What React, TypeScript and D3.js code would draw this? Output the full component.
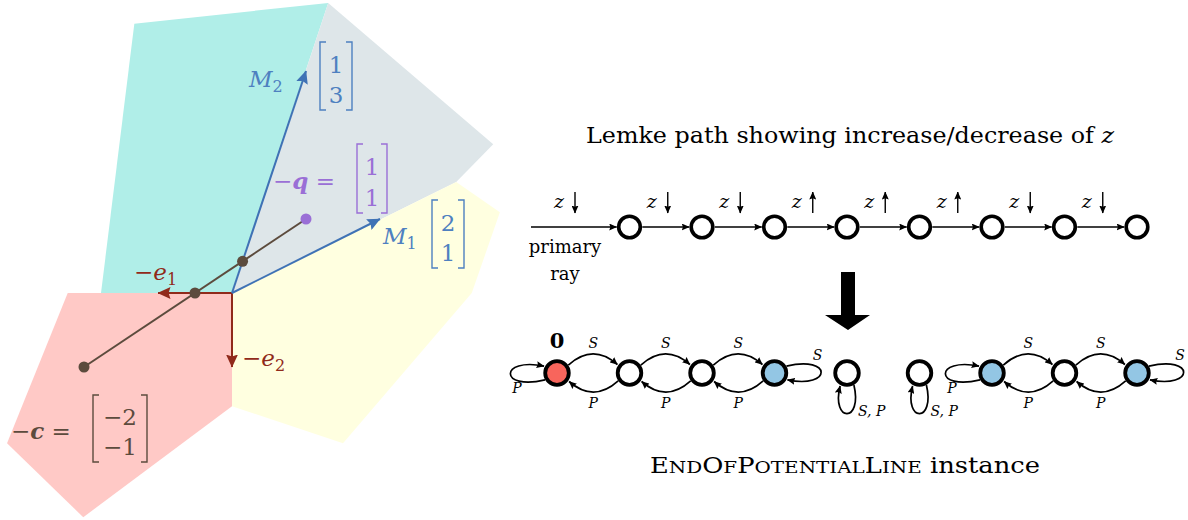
import React from "react";
import * as d3 from "d3";

// cones of the complementary pivot picture, in vector coordinates
const cyanCone: [number, number][] = [[-1.32, 3.64], [1.3, 3.92], [0, 0], [-1.77, 0]];
const grayCone: [number, number][] = [[0, 0], [1.3, 3.92], [3.53, 2.01], [3.03, 1.5]];
const yellowCone: [number, number][] = [[0, 0], [3.03, 1.5], [3.62, 1.09], [3.24, 0], [1.5, -2.03], [0, -1.53]];
const pinkCone: [number, number][] = [[-2.22, 0], [0, 0], [0, -1.53], [-2.01, -3.03], [-3.04, -2.03]];
const cones = [cyanCone, grayCone, yellowCone, pinkCone];
const coneColors = ["#b0eee8", "#dee6e9", "#ffffe0", "#ffc9c6"];

const colM1: [number, number] = [2, 1];
const colM2: [number, number] = [1, 3];
const negE: [number, number][] = [[-1, 0], [0, -1]];
const negQ: [number, number] = [1, 1];
const negC: [number, number] = [-2, -1];

// Lemke path: direction of z along each step
const zTrend = ["down", "down", "down", "up", "up", "up", "down", "down"];
// EndOfPotentialLine instance
const nodeFill = ["red", "white", "white", "blue", "white", "white", "blue", "white", "blue"];
const pairEdges: [number, number][] = [[0, 1], [1, 2], [2, 3], [6, 7], [7, 8]];
const selfLoops = [
  { node: 0, side: "left", label: "P" },
  { node: 3, side: "right", label: "S" },
  { node: 4, side: "below", label: "S, P" },
  { node: 5, side: "below", label: "S, P" },
  { node: 6, side: "left", label: "P" },
  { node: 8, side: "right", label: "S" },
];

const BLUE = "#3f72b5";
const BLUE_T = "#4e80c0";
const RED = "#902a1b";
const BROWN = "#5c4b3d";
const PURPLE = "#9a6fd6";
const FILL: Record<string, string> = { red: "#f8655c", white: "#ffffff", blue: "#93c6e4" };
const SERIF = "'DejaVu Serif', 'Liberation Serif', serif";

function Matrix(props: { x1: number; x2: number; top: number; bottom: number; vals: string[]; color: string; size?: number }) {
  const { x1, x2, top, bottom, vals, color, size = 23 } = props;
  const cx = (x1 + x2) / 2;
  const h = bottom - top;
  return (
    <g stroke={color} fill="none" strokeWidth={1.4}>
      <path d={`M${x1 + 6},${top} H${x1} V${bottom} H${x1 + 6}`} />
      <path d={`M${x2 - 6},${top} H${x2} V${bottom} H${x2 - 6}`} />
      {vals.map((v, i) => (
        <text key={i} x={cx} y={top + h * (i === 0 ? 0.45 : 0.9)} textAnchor="middle" fill={color} stroke="none" fontSize={size} fontFamily={SERIF}>
          {v}
        </text>
      ))}
    </g>
  );
}

export default function App() {
  const x = d3.scaleLinear().domain([0, 1]).range([232, 306]);
  const y = d3.scaleLinear().domain([0, 1]).range([293, 219]);
  const poly = d3.line<[number, number]>().x((d) => x(d[0])).y((d) => y(d[1]));

  // points where the segment -c -> -q crosses the cone boundaries
  const dir = [negQ[0] - negC[0], negQ[1] - negC[1]];
  const tAxis = -negC[1] / dir[1];
  const tM2 = (colM2[1] * negC[0] - colM2[0] * negC[1]) / (colM2[0] * dir[1] - colM2[1] * dir[0]);
  const crossings = [tAxis, tM2].map((t) => [negC[0] + t * dir[0], negC[1] + t * dir[1]]);

  // chains
  const nx = d3.scaleLinear().domain([0, 8]).range([557, 1137]);
  const topY = 227;
  const botY = 373;
  const rTop = 10.8;
  const rBot = 11.8;

  const arcPath = (a: number, b: number, upper: boolean) => {
    const s = upper ? -1 : 1;
    const ang = (35 * Math.PI) / 180;
    const from = upper ? a : b;
    const to = upper ? b : a;
    const sgn = to > from ? 1 : -1;
    const x0 = nx(from) + sgn * (rBot + 2) * Math.cos(ang);
    const y0 = botY + s * (rBot + 2) * Math.sin(ang);
    const x1 = nx(to) - sgn * (rBot + 3) * Math.cos(ang);
    const y1 = botY + s * (rBot + 3) * Math.sin(ang);
    return `M${x0},${y0} Q${(x0 + x1) / 2},${botY + s * 30} ${x1},${y1}`;
  };

  const loopPath = (node: number, side: string) => {
    const cx = nx(node);
    const cy = botY;
    const r = rBot + 2;
    const c30 = r * Math.cos(Math.PI / 6);
    const s30 = r * Math.sin(Math.PI / 6);
    if (side === "left")
      return `M${cx - c30},${cy + s30} C${cx - 58},${cy + 18} ${cx - 58},${cy - 16} ${cx - c30 - 1},${cy - s30}`;
    if (side === "right")
      return `M${cx + c30},${cy - s30} C${cx + 58},${cy - 18} ${cx + 58},${cy + 16} ${cx + c30 + 1},${cy + s30}`;
    return `M${cx + s30},${cy + c30} C${cx + 16},${cy + 50} ${cx - 16},${cy + 50} ${cx - s30},${cy + c30 + 1}`;
  };

  const loopLabel = (node: number, side: string) => {
    const cx = nx(node);
    if (side === "left") return { lx: cx - 40, ly: botY + 20, anchor: "middle" };
    if (side === "right") return { lx: cx + 43, ly: botY - 13, anchor: "middle" };
    return { lx: cx + 11, ly: botY + 43, anchor: "start" };
  };

  return (
    <svg width={1188} height={520} style={{ position: "absolute", left: 0, top: 0 }} fontFamily={SERIF}>
      <defs>
        {[
          ["ab", BLUE, 13, 12],
          ["ar", RED, 13, 12],
          ["ak", "#000", 8, 7],
        ].map(([id, col, w, h]) => (
          <marker key={id as string} id={id as string} markerUnits="userSpaceOnUse" markerWidth={w as number} markerHeight={h as number}
            refX={(w as number) - 0.5} refY={(h as number) / 2} orient="auto" viewBox={`0 0 ${w} ${h}`}>
            <path d={`M0,0 L${w},${(h as number) / 2} L0,${h} L${(w as number) * 0.15},${(h as number) / 2} Z`} fill={col as string} />
          </marker>
        ))}
      </defs>

      {/* left: cones */}
      {cones.map((pts, i) => (
        <path key={i} d={poly(pts) + "Z"} fill={coneColors[i]} />
      ))}

      {negE.map((v, i) => (
        <line key={i} x1={x(0)} y1={y(0)} x2={x(v[0])} y2={y(v[1])} stroke={RED} strokeWidth={2} markerEnd="url(#ar)" />
      ))}
      {[colM1, colM2].map((v, i) => (
        <line key={i} x1={x(0)} y1={y(0)} x2={x(v[0])} y2={y(v[1])} stroke={BLUE} strokeWidth={2} markerEnd="url(#ab)" />
      ))}

      <line x1={x(negC[0])} y1={y(negC[1])} x2={x(negQ[0])} y2={y(negQ[1])} stroke={BROWN} strokeWidth={2} />
      <circle cx={x(negC[0])} cy={y(negC[1])} r={5.5} fill={BROWN} />
      {crossings.map((p, i) => (
        <circle key={i} cx={x(p[0])} cy={y(p[1])} r={5.5} fill={BROWN} />
      ))}
      <circle cx={x(negQ[0])} cy={y(negQ[1])} r={5.5} fill={PURPLE} />

      {/* left: labels */}
      <text x={249} y={87} fill={BLUE_T} fontSize={23} fontStyle="italic">
        M<tspan fontSize={16} fontStyle="normal" dy={5}>2</tspan>
      </text>
      <Matrix x1={320} x2={352} top={42} bottom={110} vals={["1", "3"]} color={BLUE_T} />
      <text x={383} y={244} fill={BLUE_T} fontSize={23} fontStyle="italic">
        M<tspan fontSize={16} fontStyle="normal" dy={5}>1</tspan>
      </text>
      <Matrix x1={432} x2={464} top={200} bottom={268} vals={["2", "1"]} color={BLUE_T} />

      <text x={273} y={189} fill={PURPLE} fontSize={23}>
        −<tspan fontWeight="bold" fontStyle="italic">q</tspan> =
      </text>
      <Matrix x1={357} x2={387} top={144} bottom={213} vals={["1", "1"]} color={PURPLE} />

      <text x={134} y={280} fill={RED} fontSize={23}>
        −<tspan fontStyle="italic">e</tspan><tspan fontSize={16} dy={5}>1</tspan>
      </text>
      <text x={242} y={366} fill={RED} fontSize={23}>
        −<tspan fontStyle="italic">e</tspan><tspan fontSize={16} dy={5}>2</tspan>
      </text>

      <text x={11} y={439} fill={BROWN} fontSize={23}>
        −<tspan fontWeight="bold" fontStyle="italic">c</tspan> =
      </text>
      <Matrix x1={93} x2={147} top={395} bottom={462} vals={["−2", "−1"]} color={BROWN} />

      {/* right: Lemke path */}
      <text x={850} y={143} textAnchor="middle" fontSize={22.5} textLength={528} lengthAdjust="spacingAndGlyphs">
        Lemke path showing increase/decrease of <tspan fontStyle="italic">z</tspan>
      </text>

      <line x1={531} y1={topY} x2={nx(1) - rTop - 2} y2={topY} stroke="#000" strokeWidth={1.7} markerEnd="url(#ak)" />
      {d3.range(1, 8).map((i) => (
        <line key={i} x1={nx(i) + rTop + 2} y1={topY} x2={nx(i + 1) - rTop - 2} y2={topY} stroke="#000" strokeWidth={1.7} markerEnd="url(#ak)" />
      ))}
      {zTrend.map((t, i) => {
        const mid = i === 0 ? 573 : (nx(i) + nx(i + 1)) / 2;
        const ax = mid + 2;
        return (
          <g key={i}>
            <text x={mid - 14} y={208} textAnchor="middle" fontSize={19} fontStyle="italic">z</text>
            <line x1={ax} y1={t === "down" ? 192 : 213} x2={ax} y2={t === "down" ? 213 : 192} stroke="#000" strokeWidth={1.4} markerEnd="url(#ak)" />
          </g>
        );
      })}
      {d3.range(1, 9).map((i) => (
        <circle key={i} cx={nx(i)} cy={topY} r={rTop} fill="#fff" stroke="#000" strokeWidth={3.6} />
      ))}
      <text x={565} y={253} textAnchor="middle" fontSize={18}>primary</text>
      <text x={565} y={280} textAnchor="middle" fontSize={18}>ray</text>

      {/* big arrow */}
      <path d="M841,272 H855 V315 H870 L848,330 L825,315 H841 Z" fill="#000" />

      {/* right: EndOfPotentialLine */}
      {pairEdges.map(([a, b], i) => (
        <g key={i} fill="none" stroke="#000" strokeWidth={1.7}>
          <path d={arcPath(a, b, true)} markerEnd="url(#ak)" />
          <path d={arcPath(a, b, false)} markerEnd="url(#ak)" />
          <text x={(nx(a) + nx(b)) / 2} y={348} textAnchor="middle" fontSize={14} fontStyle="italic" fill="#000" stroke="none">S</text>
          <text x={(nx(a) + nx(b)) / 2} y={408} textAnchor="middle" fontSize={14} fontStyle="italic" fill="#000" stroke="none">P</text>
        </g>
      ))}
      {selfLoops.map((l, i) => {
        const { lx, ly, anchor } = loopLabel(l.node, l.side);
        return (
          <g key={i}>
            <path d={loopPath(l.node, l.side)} fill="none" stroke="#000" strokeWidth={1.7} markerEnd="url(#ak)" />
            <text x={lx} y={ly} textAnchor={anchor} fontSize={14} fontStyle="italic">{l.label}</text>
          </g>
        );
      })}
      {nodeFill.map((f, i) => (
        <circle key={i} cx={nx(i)} cy={botY} r={rBot} fill={FILL[f]} stroke="#000" strokeWidth={3.8} />
      ))}
      <text x={nx(0)} y={348} textAnchor="middle" fontSize={21} fontWeight="bold">0</text>

      <text x={845} y={473} textAnchor="middle" fontSize={22} textLength={390} lengthAdjust="spacingAndGlyphs">
        E<tspan fontSize={17}>ND</tspan>O<tspan fontSize={17}>F</tspan>P<tspan fontSize={17}>OTENTIAL</tspan>L<tspan fontSize={17}>INE</tspan> instance
      </text>
    </svg>
  );
}
